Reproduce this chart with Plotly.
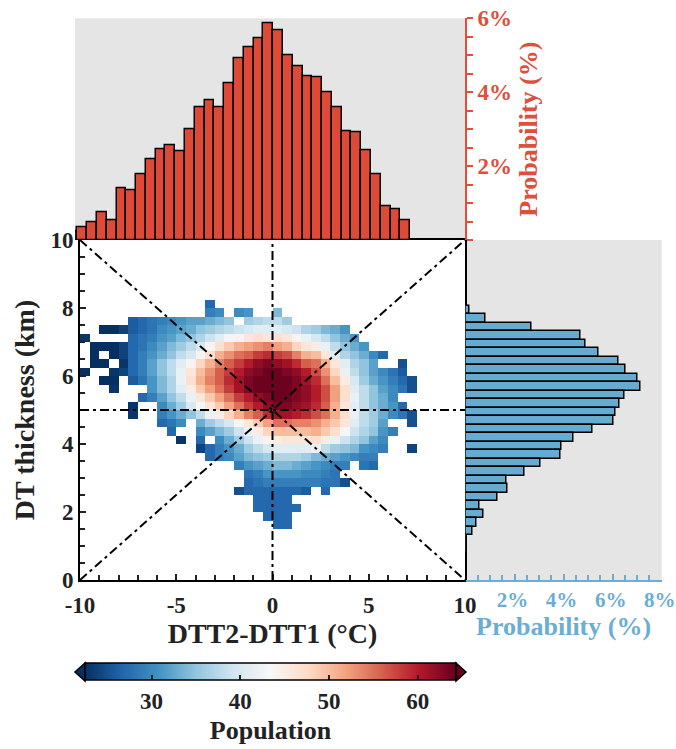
import plotly.graph_objects as go

# ---------------- data ----------------
# top histogram (DTT2-DTT1, bins of 0.5 °C, centres)
top_centres = [-10.25 + 0.5 * i for i in range(35)]
top_prob = [0.23, 0.35, 0.49, 0.75, 0.53, 1.39, 1.34, 1.78, 2.18, 2.45, 2.57, 2.40,
            2.99, 3.60, 3.78, 3.60, 4.24, 4.91, 5.21, 5.46, 5.86, 5.67, 5.00, 4.71,
            4.43, 4.40, 4.01, 3.60, 2.94, 2.92, 2.42, 1.79, 0.91, 0.84, 0.54]

# right histogram (DT thickness, bins of 0.25 km, from top to bottom)
right_centres = [7.875 - 0.25 * i for i in range(29)]
right_prob = [0.16, 0.82, 2.71, 4.69, 4.90, 5.44, 6.22, 6.52, 7.03, 7.13, 6.50, 6.27,
              6.11, 6.03, 5.16, 4.41, 3.93, 3.88, 3.06, 2.42, 1.67, 1.70, 1.31, 0.57,
              0.72, 0.44, 0.30, 0.03, 0.03]

# heatmap grid: 40 columns (0.5 °C) x 40 rows (0.25 km)
x_centres = [-9.75 + 0.5 * i for i in range(40)]
y_centres = [0.125 + 0.25 * j for j in range(40)]
N = None
# row index -> (first column index, values)
heat_rows = {
    32: (13, [27]),
    31: (13, [29, 30, N, 30, 31, N, N, 34]),
    30: (5, [26, 27, 28, 29, 30, 31, 32, 32, 33, 34, 35, N, 36, 37, 38, 38, 36]),
    29: (2, [22, 22, 24, 26, 27, 28, 30, 31, 32, 33, 35, 36, 37, 38, 39, 40, 41, 41,
             41, 40, 39, 37, 36, 34, 33, 31]),
    28: (0, [23, N, N, N, N, 27, 28, 29, 31, 32, 34, 35, 37, 39, 41, 43, 44, 46, 47,
             46, 47, 46, 44, 42, 40, 38, 35, 33, 31]),
    27: (1, [22, 22, 22, 24, 27, 28, 30, 32, 34, 36, 38, 40, 44, 47, 49, 51, 52, 53,
             54, 52, 51, 48, 46, 45, 42, 38, 35, 33, 31]),
    26: (1, [22, N, 22, 24, 27, 29, 31, 33, 35, 38, 40, 44, 47, 51, 53, 55, 56, 58,
             59, 58, 57, 54, 51, 50, 46, 41, 37, 35, 33, 30, 27]),
    25: (1, [22, 22, N, 23, 27, 29, 32, 35, 38, 41, 44, 48, 51, 54, 56, 58, 60, 62,
             63, 62, 61, 59, 56, 55, 51, 46, 41, 37, 35, 32, N, N, 25]),
    24: (0, [22, N, N, 23, 24, 27, 29, 32, 35, 38, 42, 46, 50, 53, 56, 58, 60, 62,
             63, 64, 64, 63, 62, 60, 57, 53, 48, 42, 38, 35, 32, 30, 28, 26]),
    23: (2, [22, 22, N, 26, 28, 31, 34, 37, 42, 47, 51, 54, 56, 59, 61, 63, 64, 64,
             64, 64, 63, 61, 59, 55, 50, 45, 40, 36, 33, 31, 29, 27, 25]),
    22: (3, [23, N, N, N, 31, 34, 37, 41, 45, 49, 52, 55, 58, 61, 63, 64, 64, 64,
             64, 63, 62, 60, 57, 52, 47, 41, 38, 35, 32, 30, 28, 25]),
    21: (6, [27, 29, 32, 35, 38, 42, 46, 49, 52, 55, 58, 60, 62, 63, 64, 64, 63, 62,
             60, 57, 52, 47, 42, 38, 35, 33, 30]),
    20: (5, [23, N, N, 30, 33, 36, 40, 43, 46, 49, 52, 55, 58, 60, 62, 63, 63, 62,
             61, 59, 56, 51, 46, 41, 38, 35, 33, 31, 27]),
    19: (5, [23, N, N, 29, 31, 33, 35, 38, 42, 45, 48, 51, 54, 56, 59, 61, 61, 60,
             59, 57, 55, 51, 47, 42, 38, 36, 33, 30, 28, 25]),
    18: (8, [27, 28, 30, N, 33, 36, 38, 40, 43, 46, 49, 52, 55, 55, 54, 54, 53, 51,
             49, 46, 41, 38, 36, 32, N, N, 25]),
    17: (9, [27, N, N, 30, 32, 34, 36, 39, 42, 45, 48, 50, 50, 50, 50, 51, 49, 47,
             43, 39, 37, 35, 31, 29]),
    16: (10, [23, N, 27, N, 30, 33, 36, 39, 42, 44, 45, 46, 46, 46, 47, 45, 42, 39,
              37, 35, 32, 30]),
    15: (12, [24, 27, 29, 31, 33, 36, 38, 40, 41, 41, 41, 41, 42, 38, 36, 35, 34, 31,
              30, 29, N, N, 24]),
    14: (13, [27, 29, 30, 32, 34, 35, 36, 37, 37, 37, 36, 34, 33, 32, 31, 30, 29, 29]),
    13: (16, [29, 31, 32, 33, 34, 34, 33, 32, 31, 30, 29, 29, N, 28, 27]),
    12: (17, [28, 29, 31, 31, 31, 31, 30, 30, 29, 28]),
    11: (17, [27, 28, 29, 29, 29, 29, 29, 29, 28, 28, 25]),
    10: (16, [25, 27, 27, 27, 27, 27, 27, 26, N, 27]),
    9: (18, [27, 27, 27, 27]),
    8: (18, [27, 27, 27, 27, 27]),
    7: (19, [27, 27, 27]),
    6: (20, [27, 27]),
}
cbar_ticks = [30, 40, 50, 60]
z_min, z_max = 22.5, 64.3

# reference lines (dash-dot) in data units
ref_lines = [(-10, 0, 10, 10), (-10, 10, 10, 0), (0, 0, 0, 10), (-10, 5, 10, 5)]

# ---------------- build ----------------
z = [[None] * 40 for _ in range(40)]
for j, (c0, vals) in heat_rows.items():
    for k, v in enumerate(vals):
        z[j][c0 + k] = v

W, H = 676, 749
def px(x):
    return x / W
def py(y):
    return 1 - y / H

FONT = "Liberation Serif"
RED = "#e04e3c"
BLUE = "#6aaed4"
DARK = "#222222"

rdbu_r = [[0.0, 'rgb(5,48,97)'], [0.1, 'rgb(33,102,172)'], [0.2, 'rgb(67,147,195)'],
          [0.3, 'rgb(146,197,222)'], [0.4, 'rgb(209,229,240)'], [0.5, 'rgb(247,247,247)'],
          [0.6, 'rgb(253,219,199)'], [0.7, 'rgb(244,165,130)'], [0.8, 'rgb(214,96,77)'],
          [0.9, 'rgb(178,24,43)'], [1.0, 'rgb(103,0,31)']]

fig = go.Figure()

fig.add_trace(go.Heatmap(
    x=x_centres, y=y_centres, z=z, colorscale=rdbu_r, zmin=z_min, zmax=z_max,
    hoverongaps=False, xaxis='x', yaxis='y',
    colorbar=dict(
        orientation='h', x=px(270.5), xanchor='center', y=py(663), yanchor='top',
        len=371 / W, lenmode='fraction', thickness=17, thicknessmode='pixels',
        outlinecolor='black', outlinewidth=1.5, xpad=0, ypad=0,
        tickvals=cbar_ticks, ticks='inside', ticklen=5, tickcolor=DARK, tickwidth=1.5,
        tickfont=dict(family=FONT, size=23, color=DARK, weight='bold'),
        title=dict(text='Population', side='bottom',
                   font=dict(family=FONT, size=26, color=DARK, weight='bold')),
    ),
))

fig.add_trace(go.Bar(
    x=top_centres, y=top_prob, width=0.5, xaxis='x2', yaxis='y2',
    marker=dict(color='#dd4b38', line=dict(color='black', width=1.5)),
))

fig.add_trace(go.Bar(
    y=right_centres, x=right_prob, width=0.25, orientation='h', xaxis='x3', yaxis='y3',
    marker=dict(color='#65acd0', line=dict(color='black', width=1.5)),
))

shapes = [dict(type='rect', xref='x', yref='y', x0=-10, x1=10, y0=0, y1=10,
               fillcolor='white', line=dict(width=0), layer='below')]
for (x0, y0, x1, y1) in ref_lines:
    shapes.append(dict(type='line', xref='x', yref='y', x0=x0, y0=y0, x1=x1, y1=y1,
                       line=dict(color='black', width=2, dash='9px,4px,3px,4px'),
                       layer='above'))
# colour-bar extension triangles
shapes.append(dict(type='path', xref='paper', yref='paper',
                   path=f"M {px(85)} {py(663)} L {px(75)} {py(672)} L {px(85)} {py(681)} Z",
                   fillcolor='rgb(5,48,97)', line=dict(color='black', width=1.5)))
shapes.append(dict(type='path', xref='paper', yref='paper',
                   path=f"M {px(456)} {py(663)} L {px(466)} {py(672)} L {px(456)} {py(681)} Z",
                   fillcolor='rgb(103,0,31)', line=dict(color='black', width=1.5)))

tick_font = dict(family=FONT, size=23, color=DARK, weight='bold')
title_font = dict(family=FONT, size=28, color=DARK, weight='bold')

fig.update_layout(
    width=W, height=H, margin=dict(l=0, r=0, t=0, b=0, autoexpand=False),
    paper_bgcolor='white', plot_bgcolor='#e5e5e5', showlegend=False,
    bargap=0, shapes=shapes,
    xaxis=dict(domain=[px(80), px(465)], range=[-10, 10], anchor='y', automargin=False,
               tickvals=[-10, -5, 0, 5, 10], ticktext=['-10', '-5', '0', '5', '10'],
               ticks='inside', ticklen=6, tickwidth=1.5, tickcolor=DARK,
               minor=dict(dtick=1, ticks='inside', ticklen=5, tickwidth=1.5, tickcolor=DARK),
               showline=True, linecolor='black', linewidth=2, mirror=True,
               showgrid=False, zeroline=False, tickfont=tick_font, ticklabelstandoff=3,
               title=dict(text='DTT2-DTT1 (°C)', font=title_font, standoff=3)),
    yaxis=dict(domain=[py(580), py(240)], range=[0, 10], anchor='x', automargin=False,
               tickvals=[0, 2, 4, 6, 8, 10],
               ticks='inside', ticklen=6, tickwidth=1.5, tickcolor=DARK,
               minor=dict(dtick=0.5, ticks='inside', ticklen=5, tickwidth=1.5, tickcolor=DARK),
               showline=True, linecolor='black', linewidth=2, mirror=True,
               showgrid=False, zeroline=False, tickfont=tick_font,
               title=dict(text='DT thickness (km)', font=title_font, standoff=8)),
    xaxis2=dict(domain=[px(75), px(465)], range=[-10.12, 9.8], anchor='y2', automargin=False,
                showticklabels=False, ticks='', showline=False, showgrid=False,
                zeroline=False),
    yaxis2=dict(domain=[py(240), py(18.3)], range=[0, 6], anchor='x2', side='right',
                automargin=False,
                tickvals=[2, 4, 6], ticktext=['2%', '4%', '6%'],
                ticks='outside', ticklen=6, tickwidth=1.5, tickcolor=RED,
                minor=dict(dtick=0.5, ticks='outside', ticklen=6, tickwidth=1.5, tickcolor=RED),
                showline=True, linecolor=RED, linewidth=2, showgrid=False, zeroline=False,
                tickfont=dict(family=FONT, size=23, color=RED, weight='bold'),
                title=dict(text='Probability (%)',
                           font=dict(family=FONT, size=26, color=RED, weight='bold'),
                           standoff=8)),
    xaxis3=dict(domain=[px(465.5), px(661.7)], range=[0, 8], anchor='y3', automargin=False,
                tickvals=[2, 4, 6, 8], ticktext=['2%', '4%', '6%', '8%'],
                ticklabeloverflow='allow', ticklabelshift=-2,
                ticks='inside', ticklen=6, tickwidth=1.5, tickcolor=BLUE,
                minor=dict(dtick=0.5, ticks='inside', ticklen=5, tickwidth=1.5, tickcolor=BLUE),
                showline=True, linecolor=BLUE, linewidth=2, showgrid=False, zeroline=False,
                tickfont=dict(family=FONT, size=21, color=BLUE, weight='bold'),
                title=dict(text='Probability (%)',
                           font=dict(family=FONT, size=26, color=BLUE, weight='bold'),
                           standoff=5)),
    yaxis3=dict(domain=[py(580), py(240)], range=[-0.07, 9.93], anchor='x3', automargin=False,
                showticklabels=False, ticks='', showline=False, showgrid=False,
                zeroline=False),
)

fig.write_html("out.html")
